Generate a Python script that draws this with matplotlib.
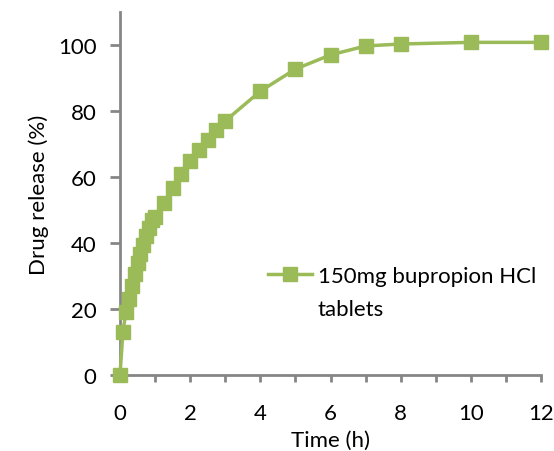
import matplotlib
matplotlib.use("Agg")
import matplotlib.pyplot as plt

time_h = [0, 0.083, 0.167, 0.25, 0.333, 0.417, 0.5, 0.583, 0.667, 0.75, 0.833, 0.917, 1.0,
          1.25, 1.5, 1.75, 2, 2.25, 2.5, 2.75, 3, 4, 5, 6, 7, 8, 10, 12]
release = [0, 13, 19, 23, 27, 30.7, 33.8, 36.8, 39.4, 42, 44.5, 46.9, 48,
           52.2, 56.6, 60.8, 64.8, 68.2, 71.1, 74.3, 77, 86, 92.7, 97, 99.7, 100.3, 100.8, 100.8]
series_label = "150mg bupropion HCl"
series_label2 = "tablets"
x_ticks = list(range(0, 13))
x_ticklabels = [str(t) if t % 2 == 0 else "" for t in x_ticks]
y_ticks = [0, 20, 40, 60, 80, 100]

plt.rcParams['font.family'] = ['Lato', 'DejaVu Sans']
green = '#9BBB59'
grey = '#868686'
fs = 16

fig = plt.figure(figsize=(5.54, 4.52), dpi=100)
ax = fig.add_axes([120/554, 76/452, (541-120)/554, (376-13)/452])

ax.plot(time_h, release, color=green, lw=2.5, marker='s', markersize=9.5,
        markerfacecolor=green, markeredgecolor=green, label=series_label, clip_on=False, zorder=5)

ax.set_xlim(0, 12)
ax.set_ylim(0, 110)
ax.set_xticks(x_ticks)
ax.set_xticklabels(x_ticklabels)
ax.set_yticks(y_ticks)
for s in ['top', 'right']:
    ax.spines[s].set_visible(False)
for s in ['left', 'bottom']:
    ax.spines[s].set_color(grey)
    ax.spines[s].set_linewidth(2)
ax.tick_params(axis='x', direction='out', length=5, width=2, color=grey, labelsize=fs, pad=15)
ax.tick_params(axis='y', direction='out', length=7, width=2, color=grey, labelsize=fs, pad=10)

ax.set_xlabel("Time (h)", fontsize=fs, labelpad=5)
ax.set_ylabel("Drug release (%)", fontsize=fs, labelpad=6)

leg = ax.legend(loc='center left', bbox_to_anchor=(268/554, 1-277/452), bbox_transform=fig.transFigure,
                frameon=False, fontsize=fs, handlelength=2.0, handletextpad=0.25,
                borderpad=0, borderaxespad=0)
fig.text(317/554, 1-310/452, series_label2, fontsize=fs, va='center', ha='left')

fig.savefig("out.png", dpi=100)
